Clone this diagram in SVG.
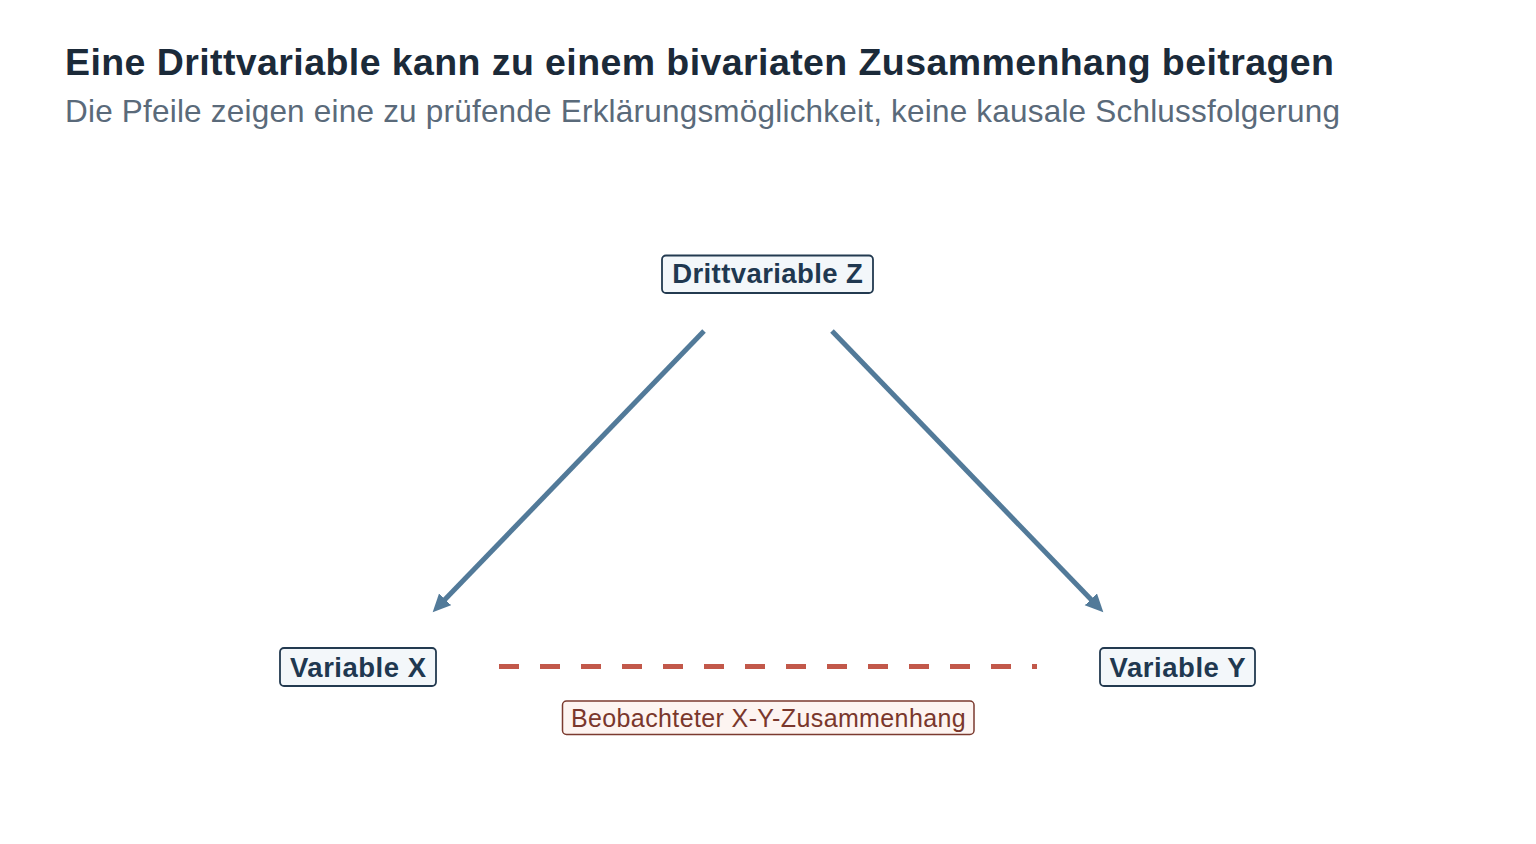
<svg xmlns="http://www.w3.org/2000/svg" width="1536" height="844" viewBox="0 0 1536 844">
<defs>
<style>
.title{font-family:"Liberation Sans",Arial,sans-serif;font-weight:bold;font-size:37.5px;fill:#1b2a39}
.sub{font-family:"Liberation Sans",Arial,sans-serif;font-size:31.5px;fill:#5a6a7a}
.node rect{fill:#f3f7fa;stroke:#233a50;stroke-width:1.8}
.node text{font-family:"Liberation Sans",Arial,sans-serif;font-weight:bold;font-size:27.5px;fill:#1f3850;text-anchor:middle}
.lab rect{fill:#fdf4f1;stroke:#7b3a2f;stroke-width:1.5}
.lab text{font-family:"Liberation Sans",Arial,sans-serif;font-size:25px;fill:#7a372c;text-anchor:middle}
.arrow{stroke:#527a99;stroke-width:5;fill:none;marker-end:url(#ah)}
.dash{stroke:#c2584a;stroke-width:5;stroke-dasharray:20 21;fill:none}
</style>
<marker id="ah" markerUnits="userSpaceOnUse" markerWidth="24" markerHeight="24" refX="8" refY="8.5" orient="auto">
<path d="M0,0 L18,8.5 L0,17 z" fill="#527a99"/>
</marker>
</defs>
<rect width="1536" height="844" fill="#ffffff"/>
<text class="title" x="65" y="75" textLength="1269" lengthAdjust="spacing">Eine Drittvariable kann zu einem bivariaten Zusammenhang beitragen</text>
<text class="sub" x="65" y="122" textLength="1275" lengthAdjust="spacing">Die Pfeile zeigen eine zu prüfende Erklärungsmöglichkeit, keine kausale Schlussfolgerung</text>
<g id="connectors">
<line class="arrow" x1="704" y1="331" x2="439.6" y2="605.1"/>
<line class="arrow" x1="832" y1="331" x2="1096.4" y2="605.1"/>
<line class="dash" x1="499" y1="666.5" x2="1037" y2="666.5"/>
</g>
<g id="nodeZ" class="node">
<rect x="662" y="255.5" width="211" height="37.5" rx="4"/>
<text x="767.5" y="283.3" textLength="190.6" lengthAdjust="spacing">Drittvariable Z</text>
</g>
<g id="nodeX" class="node">
<rect x="280" y="648" width="156" height="38" rx="4"/>
<text x="358" y="676.5" textLength="136" lengthAdjust="spacing">Variable X</text>
</g>
<g id="nodeY" class="node">
<rect x="1100" y="648" width="155" height="38" rx="4"/>
<text x="1177.5" y="676.5" textLength="136" lengthAdjust="spacing">Variable Y</text>
</g>
<g id="label" class="lab">
<rect x="562.5" y="701" width="411.5" height="33.5" rx="4"/>
<text x="768.3" y="726.7" textLength="394.7" lengthAdjust="spacing">Beobachteter X-Y-Zusammenhang</text>
</g>
</svg>
